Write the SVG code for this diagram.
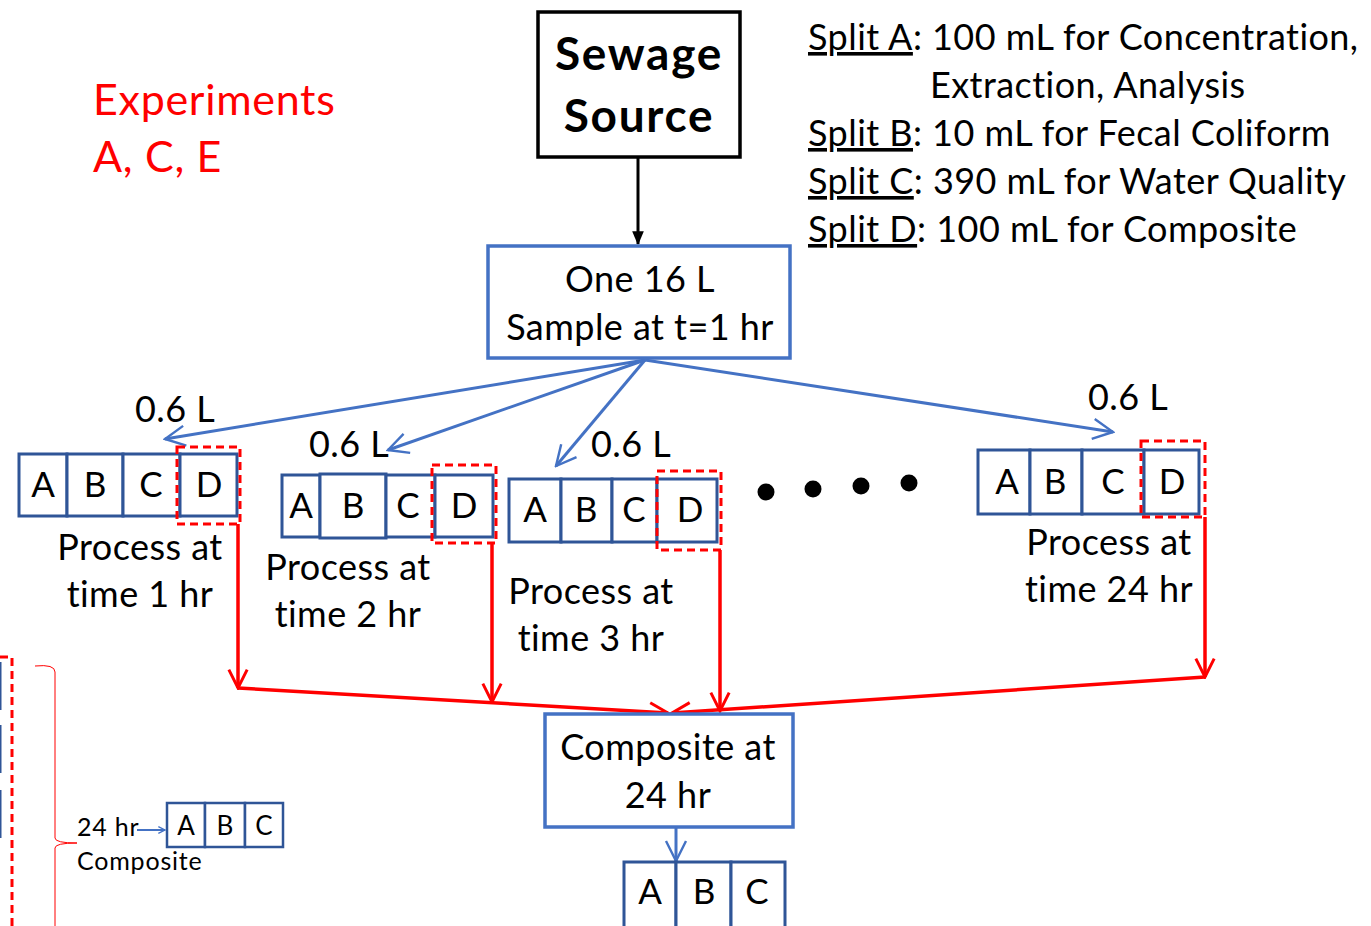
<svg xmlns="http://www.w3.org/2000/svg" width="1371" height="926" viewBox="0 0 1371 926">
<style>
text{font-family:Lato,"Open Sans",sans-serif;fill:#000}
.t34{font-size:36px;letter-spacing:0.45px}
.cell{fill:#fff;stroke:#2F5597;stroke-width:3}
.cl{font-size:35px;text-anchor:middle}
.dash{fill:none;stroke:#FF0000;stroke-width:3;stroke-dasharray:8,5}
.blue{stroke:#4472C4;stroke-width:3;fill:none}
.red{stroke:#FF0000;stroke-width:3.5;fill:none}
.mid{text-anchor:middle}
.sm{font-size:25px;letter-spacing:0.8px}
</style>
<defs>
<marker id="ab" viewBox="0 0 12 12" refX="11" refY="6" markerWidth="8" markerHeight="8" orient="auto" markerUnits="userSpaceOnUse"><path d="M1,1 L11,6 L1,11" fill="none" stroke="#4472C4" stroke-width="2"/></marker>
<marker id="abig" viewBox="0 0 12 12" refX="11" refY="6" markerWidth="24" markerHeight="24" orient="auto" markerUnits="userSpaceOnUse"><path d="M1,1 L11,6 L1,11" fill="none" stroke="#4472C4" stroke-width="1.2"/></marker>
<marker id="ar" viewBox="0 0 12 12" refX="11" refY="6" markerWidth="22" markerHeight="22" orient="auto" markerUnits="userSpaceOnUse"><path d="M1,1 L11,6 L1,11" fill="none" stroke="#FF0000" stroke-width="1.6"/></marker>
<marker id="ak" viewBox="0 0 12 12" refX="11" refY="6" markerWidth="14" markerHeight="14" orient="auto" markerUnits="userSpaceOnUse"><path d="M0,1 L12,6 L0,11 Z" fill="#000"/></marker>
</defs>

<g id="experiments">
<text x="93" y="115" font-size="43" letter-spacing="0.7" style="fill:#FF0000">Experiments</text>
<text x="93" y="172" font-size="43" letter-spacing="0.7" style="fill:#FF0000">A, C, E</text>
</g>

<g id="legend" class="t34">
<text x="808" y="50"><tspan text-decoration="underline">Split A</tspan>: 100 mL for Concentration,</text>
<text x="930" y="98">Extraction, Analysis</text>
<text x="808" y="146"><tspan text-decoration="underline">Split B</tspan>: 10 mL for Fecal Coliform</text>
<text x="808" y="194"><tspan text-decoration="underline">Split C</tspan>: 390 mL for Water Quality</text>
<text x="808" y="242"><tspan text-decoration="underline">Split D</tspan>: 100 mL for Composite</text>
</g>

<g id="connectors">
<line x1="638" y1="158" x2="638" y2="244" stroke="#000" stroke-width="3" marker-end="url(#ak)"/>
<line x1="645" y1="360" x2="165" y2="439" class="blue" marker-end="url(#abig)"/>
<line x1="645" y1="360" x2="388" y2="450" class="blue" marker-end="url(#abig)"/>
<line x1="645" y1="360" x2="556" y2="466" class="blue" marker-end="url(#abig)"/>
<line x1="645" y1="360" x2="1113" y2="432" class="blue" marker-end="url(#abig)"/>
<line x1="238" y1="524" x2="238" y2="688" class="red" marker-end="url(#ar)"/>
<line x1="492" y1="543" x2="492" y2="702" class="red" marker-end="url(#ar)"/>
<line x1="720" y1="550" x2="720" y2="711" class="red" marker-end="url(#ar)"/>
<line x1="1205" y1="517" x2="1205" y2="677" class="red" marker-end="url(#ar)"/>
<line x1="238" y1="688" x2="668" y2="713" class="red" marker-end="url(#ar)"/>
<line x1="1205" y1="677" x2="672" y2="713" class="red" marker-end="url(#ar)"/>
<line x1="676" y1="827" x2="676" y2="861" class="blue" marker-end="url(#abig)"/>
<line x1="137" y1="830" x2="165" y2="830" stroke="#4472C4" stroke-width="2" marker-end="url(#ab)"/>
</g>

<g id="sewage-source">
<rect x="538" y="12" width="202" height="145" fill="#fff" stroke="#000" stroke-width="3.5"/>
<text x="639" y="70" class="mid" font-size="46" font-weight="bold" letter-spacing="1.7">Sewage</text>
<text x="639" y="132" class="mid" font-size="46" font-weight="bold" letter-spacing="1.7">Source</text>
</g>

<g id="sample">
<rect x="488" y="246" width="302" height="112" fill="#fff" stroke="#4472C4" stroke-width="3.5"/>
<text x="640" y="292" class="t34 mid">One 16 L</text>
<text x="640" y="340" class="t34 mid">Sample at t=1 hr</text>
</g>

<g id="labels-06">
<text x="175" y="422" class="t34 mid">0.6 L</text>
<text x="349" y="457" class="t34 mid">0.6 L</text>
<text x="631" y="457" class="t34 mid">0.6 L</text>
<text x="1128" y="410" class="t34 mid">0.6 L</text>
</g>

<g id="process-1">
<rect x="19" y="454" width="48" height="62" class="cell"/>
<rect x="67" y="454" width="56" height="62" class="cell"/>
<rect x="123" y="454" width="57" height="62" class="cell"/>
<rect x="180" y="454" width="57" height="62" class="cell"/>
<text x="43" y="497" class="cl">A</text>
<text x="95" y="497" class="cl">B</text>
<text x="151" y="497" class="cl">C</text>
<text x="209" y="497" class="cl">D</text>
<rect x="177" y="447" width="63" height="77" class="dash"/>
<text x="140" y="560" class="t34 mid">Process at</text>
<text x="140" y="607" class="t34 mid">time 1 hr</text>
</g>

<g id="process-2">
<rect x="282" y="475" width="38" height="62" class="cell"/>
<rect x="320" y="474" width="66" height="64" class="cell" stroke-width="4"/>
<rect x="386" y="475" width="49" height="62" class="cell"/>
<rect x="435" y="475" width="58" height="62" class="cell"/>
<text x="301" y="518" class="cl">A</text>
<text x="353" y="518" class="cl">B</text>
<text x="408" y="518" class="cl">C</text>
<text x="464" y="518" class="cl">D</text>
<rect x="432" y="465" width="64" height="78" class="dash"/>
<text x="348" y="580" class="t34 mid">Process at</text>
<text x="348" y="627" class="t34 mid">time 2 hr</text>
</g>

<g id="process-3">
<rect x="509" y="479" width="52" height="63" class="cell"/>
<rect x="561" y="479" width="51" height="63" class="cell"/>
<rect x="612" y="479" width="45" height="63" class="cell"/>
<rect x="657" y="479" width="60" height="63" class="cell"/>
<text x="535" y="522" class="cl">A</text>
<text x="586" y="522" class="cl">B</text>
<text x="634" y="522" class="cl">C</text>
<text x="690" y="522" class="cl">D</text>
<rect x="657" y="471" width="64" height="79" class="dash"/>
<text x="591" y="604" class="t34 mid">Process at</text>
<text x="591" y="651" class="t34 mid">time 3 hr</text>
</g>

<g id="dots">
<circle cx="766" cy="492" r="8.5"/>
<circle cx="813" cy="489" r="8.5"/>
<circle cx="861" cy="486" r="8.5"/>
<circle cx="909" cy="483" r="8.5"/>
</g>

<g id="process-24">
<rect x="978" y="450" width="52" height="64" class="cell"/>
<rect x="1030" y="450" width="52" height="64" class="cell"/>
<rect x="1082" y="450" width="62" height="64" class="cell"/>
<rect x="1144" y="450" width="55" height="64" class="cell"/>
<text x="1007" y="494" class="cl">A</text>
<text x="1055" y="494" class="cl">B</text>
<text x="1113" y="494" class="cl">C</text>
<text x="1172" y="494" class="cl">D</text>
<rect x="1141" y="441" width="64" height="76" class="dash"/>
<text x="1109" y="555" class="t34 mid">Process at</text>
<text x="1109" y="602" class="t34 mid">time 24 hr</text>
</g>

<g id="composite">
<rect x="545" y="714" width="248" height="113" fill="#fff" stroke="#4472C4" stroke-width="3.5"/>
<text x="668" y="760" class="t34 mid">Composite at</text>
<text x="668" y="808" class="t34 mid">24 hr</text>
</g>

<g id="composite-splits">
<rect x="624" y="862" width="52" height="66" class="cell"/>
<rect x="676" y="862" width="55" height="66" class="cell"/>
<rect x="731" y="862" width="54" height="66" class="cell"/>
<text x="650" y="904" class="cl">A</text>
<text x="704" y="904" class="cl">B</text>
<text x="757" y="904" class="cl">C</text>
</g>

<g id="legend-small">
<path d="M35,666 Q55,664 55,672 L55,838 Q55,843 77,843 Q55,843 55,848 L55,926" fill="none" stroke="#FF0000" stroke-width="1"/>
<text x="77" y="836" class="sm">24 hr</text>
<text x="77" y="870" class="sm">Composite</text>
<rect x="167" y="803" width="38" height="44" fill="#fff" stroke="#2F5597" stroke-width="2.5"/>
<rect x="205" y="803" width="40" height="44" fill="#fff" stroke="#2F5597" stroke-width="2.5"/>
<rect x="245" y="803" width="38" height="44" fill="#fff" stroke="#2F5597" stroke-width="2.5"/>
<text x="186" y="835" font-size="26" class="mid">A</text>
<text x="225" y="835" font-size="26" class="mid">B</text>
<text x="264" y="835" font-size="26" class="mid">C</text>
</g>

<g id="left-edge">
<line x1="0" y1="662" x2="0" y2="710" stroke="#2F5597" stroke-width="3"/>
<line x1="0" y1="725" x2="0" y2="773" stroke="#2F5597" stroke-width="3"/>
<line x1="0" y1="790" x2="0" y2="838" stroke="#2F5597" stroke-width="3"/>
<path d="M0,657 L12,657 L12,926" class="dash"/>
</g>
</svg>
